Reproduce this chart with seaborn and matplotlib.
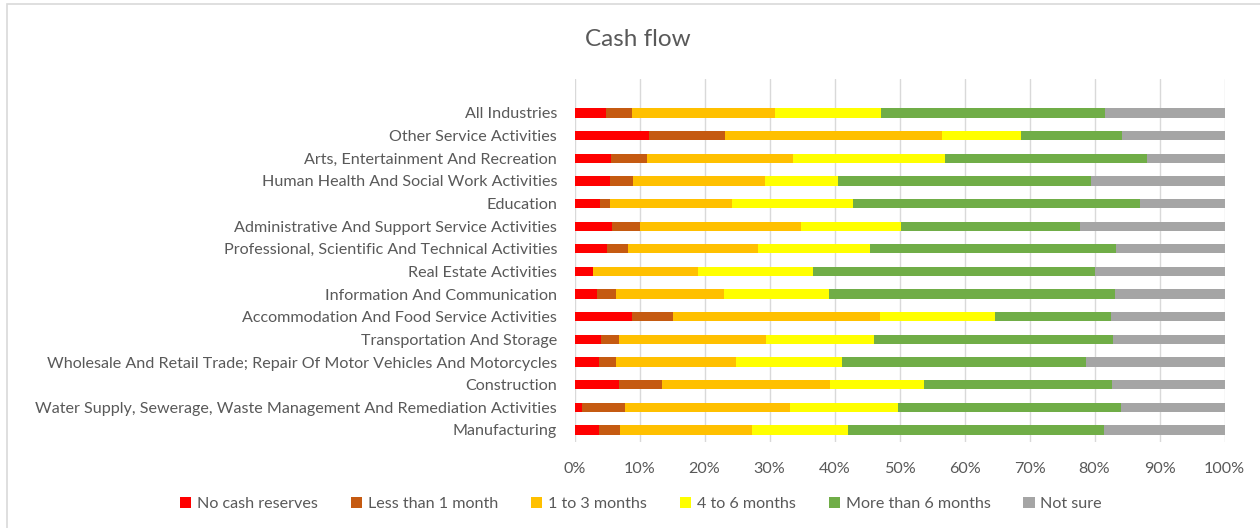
import matplotlib
matplotlib.use("Agg")
import matplotlib.pyplot as plt
import seaborn as sns
import pandas as pd
import numpy as np
from matplotlib.patches import Patch, Rectangle

industries = [
    "All Industries",
    "Other Service Activities",
    "Arts, Entertainment And Recreation",
    "Human Health And Social Work Activities",
    "Education",
    "Administrative And Support Service Activities",
    "Professional, Scientific And Technical Activities",
    "Real Estate Activities",
    "Information And Communication",
    "Accommodation And Food Service Activities",
    "Transportation And Storage",
    "Wholesale And Retail Trade; Repair Of Motor Vehicles And Motorcycles",
    "Construction",
    "Water Supply, Sewerage, Waste Management And Remediation Activities",
    "Manufacturing",
]

series_names = ["No cash reserves", "Less than 1 month", "1 to 3 months",
                "4 to 6 months", "More than 6 months", "Not sure"]

no_cash = [4.8, 11.4, 5.6, 5.5, 3.9, 5.8, 5.0, 2.85, 3.4, 8.85, 4.1, 3.8, 6.85, 1.15, 3.8]
less_1m = [4.0, 11.7, 5.6, 3.5, 1.6, 4.2, 3.2, 0.0, 3.0, 6.35, 2.75, 2.6, 6.65, 6.55, 3.15]
m1_3 = [22.0, 33.5, 22.4, 20.3, 18.7, 24.8, 20.0, 16.15, 16.6, 31.8, 22.65, 18.4, 25.8, 25.5, 20.35]
m4_6 = [16.4, 12.1, 23.4, 11.2, 18.6, 15.4, 17.3, 17.7, 16.2, 17.7, 16.6, 16.4, 14.4, 16.6, 14.8]
more_6 = [34.4, 15.6, 31.1, 39.0, 44.2, 27.5, 37.8, 43.3, 43.9, 17.8, 36.7, 37.5, 29.0, 34.2, 39.4]
not_sure = [18.4, 15.7, 11.9, 20.5, 13.0, 22.3, 16.7, 20.0, 16.9, 17.5, 17.2, 21.3, 17.3, 16.0, 18.5]

colors = ["#FF0000", "#C55A11", "#FFC000", "#FFFF00", "#70AD47", "#A5A5A5"]
text_color = "#595959"

sns.set_theme(style="white")
plt.rcParams["font.family"] = ["Lato", "DejaVu Sans"]

df = pd.DataFrame({
    "industry": industries,
    series_names[0]: no_cash,
    series_names[1]: less_1m,
    series_names[2]: m1_3,
    series_names[3]: m4_6,
    series_names[4]: more_6,
    series_names[5]: not_sure,
})
cum = df[series_names].cumsum(axis=1)

fig = plt.figure(figsize=(12.6, 5.28), dpi=100)
ax = fig.add_axes([574.5 / 1260, 1 - 442 / 528, 650 / 1260, (442 - 79) / 528])

# border of chart area
fig.patches.append(Rectangle((7 / 1260, -0.1), 1.2, 1 - 4.5 / 528 + 0.1,
                             transform=fig.transFigure, fill=False,
                             edgecolor="#D9D9D9", linewidth=1.2, zorder=0))

for i in range(len(series_names) - 1, -1, -1):
    sns.barplot(x=cum[series_names[i]], y=df["industry"], order=industries,
                color=colors[i], width=0.41, ax=ax, orient="h",
                saturation=1, linewidth=0, zorder=3)

ax.set_xlim(0, 100)
ax.set_ylim(len(industries) - 1 + 0.53, -1.5)
ax.set_xticks(np.arange(0, 101, 10))
ax.set_xticklabels([f"{v}%" for v in range(0, 101, 10)])
ax.xaxis.grid(True, color="#D9D9D9", linewidth=1, zorder=0)
ax.yaxis.grid(False)
ax.set_axisbelow(True)
for s in ax.spines.values():
    s.set_visible(False)
ax.set_xlabel("")
ax.set_ylabel("")
ax.tick_params(axis="both", length=0, colors=text_color, labelsize=11.6)
ax.tick_params(axis="y", pad=12.5)
ax.tick_params(axis="x", pad=14.5)

fig.text(638 / 1260, 1 - 40 / 528, "Cash flow", ha="center", va="center",
         fontsize=17.5, color=text_color)

handles = [Patch(facecolor=c, edgecolor="none") for c in colors]
leg = fig.legend(handles, series_names, loc="center", ncol=6,
                 bbox_to_anchor=(641 / 1260, 1 - 504 / 528), frameon=False,
                 fontsize=11.6, handlelength=0.7, handleheight=0.7,
                 handletextpad=0.35, columnspacing=2.05)
for t in leg.get_texts():
    t.set_color(text_color)

fig.savefig("out.png", dpi=100, facecolor="white")
